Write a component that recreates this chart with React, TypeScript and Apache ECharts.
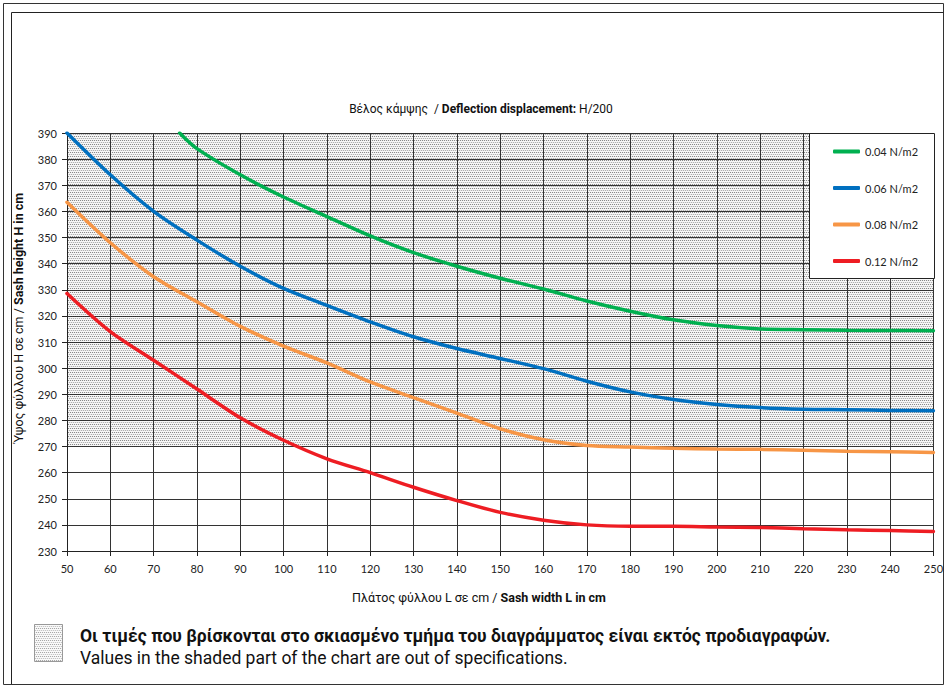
import React, { useEffect, useRef } from "react";
import * as echarts from "echarts";

// ---- Data ----
const widths = [50, 60, 70, 80, 90, 100, 110, 120, 130, 140, 150, 160, 170, 180, 190, 200, 210, 220, 230, 240, 250];
const greenWidths = [76, 80, 90, 100, 110, 120, 130, 140, 150, 160, 170, 180, 190, 200, 210, 220, 230, 240, 250];
const green004 = [390, 384, 374, 365.5, 358, 350.6, 344.2, 339, 334.4, 330.3, 325.7, 321.8, 318.5, 316.3, 315, 314.7, 314.5, 314.4, 314.3];
const blue006 = [390, 374, 360, 349, 339, 330.5, 324, 317.7, 312, 307.5, 303.7, 299.8, 295, 290.9, 288, 286.1, 284.9, 284.3, 284.1, 283.8, 283.7];
const orange008 = [363.5, 348, 335, 325.4, 316, 308.4, 302, 294.7, 288.7, 282.8, 276.8, 272.6, 270.4, 269.8, 269.3, 269, 268.9, 268.6, 268.2, 268, 267.7];
const red012 = [328.6, 314, 303, 292, 281, 272.4, 265.3, 260, 254.4, 249.3, 244.8, 241.8, 240, 239.5, 239.5, 239.2, 239, 238.5, 238.1, 237.8, 237.5];
const seriesNames = ["0.04 N/m2", "0.06 N/m2", "0.08 N/m2", "0.12 N/m2"];
const seriesColors = ["#00B050", "#0070C0", "#F79646", "#EE1D23"];
const shadedRange = [270, 390];
const xRange = [50, 250];
const yRange = [230, 390];

function makePattern(light: boolean): HTMLCanvasElement {
  const c = document.createElement("canvas");
  c.width = 4;
  c.height = 4;
  const ctx = c.getContext("2d")!;
  const rows = light
    ? [
        ["#a8a8a8", "#f0f0f0", "#a8a8a8", "#f0f0f0"],
        ["#fafafa", "#fafafa", "#fafafa", "#fafafa"],
        ["#ececec", "#c4c4c4", "#ececec", "#c4c4c4"],
        ["#fafafa", "#fafafa", "#fafafa", "#fafafa"],
      ]
    : [
        ["#8a8a8a", "#ececec", "#8a8a8a", "#ececec"],
        ["#f8f8f8", "#f8f8f8", "#f8f8f8", "#f8f8f8"],
        ["#e6e6e6", "#b0b0b0", "#e6e6e6", "#b0b0b0"],
        ["#f8f8f8", "#f8f8f8", "#f8f8f8", "#f8f8f8"],
      ];
  rows.forEach((r, y) =>
    r.forEach((col, x) => {
      ctx.fillStyle = col;
      ctx.fillRect(x, y, 1, 1);
    })
  );
  return c;
}

const pairs = (xs: number[], ys: number[]) => xs.map((x, i) => [x, ys[i]]);

export default function App() {
  const ref = useRef<HTMLDivElement>(null);
  useEffect(() => {
    if (!ref.current) return;
    const chart = echarts.init(ref.current, undefined, { renderer: "svg" });
    const pattern = { image: makePattern(false), repeat: "repeat" as const };
    const lightPattern = { image: makePattern(true), repeat: "repeat" as const };
    const labelFont = { fontFamily: "Lato", fontSize: 11, color: "#222" };
    const lineSeries = [
      pairs(greenWidths, green004),
      pairs(widths, blue006),
      pairs(widths, orange008),
      pairs(widths, red012),
    ].map((d, i) => ({
      name: seriesNames[i],
      type: "line",
      data: d,
      symbol: "none",
      smooth: 0.3,
      z: 3,
      lineStyle: { color: seriesColors[i], width: 3.5, cap: "round" },
      itemStyle: { color: seriesColors[i] },
    }));
    const axisName = {
      n: { fontFamily: "Roboto", fontSize: 12.5, fill: "#111" },
      b: { fontFamily: "Roboto", fontSize: 12.5, fontWeight: "bold", fill: "#111" },
    };
    chart.setOption({
      animation: false,
      backgroundColor: "#fff",
      grid: { left: 67, right: 11, top: 133, bottom: 137 },
      xAxis: {
        type: "value",
        min: xRange[0],
        max: xRange[1],
        interval: 10,
        axisLine: { show: true, lineStyle: { color: "#222", width: 1 } },
        axisTick: { show: true, inside: false, length: 5, lineStyle: { color: "#222" } },
        axisLabel: { ...labelFont, margin: 12 },
        splitLine: { show: true, lineStyle: { color: "#333", width: 1 } },
      },
      yAxis: {
        type: "value",
        min: yRange[0],
        max: yRange[1],
        interval: 10,
        axisLine: { show: true, lineStyle: { color: "#222", width: 1 } },
        axisTick: { show: true, inside: false, length: 5, lineStyle: { color: "#222" } },
        axisLabel: { ...labelFont, margin: 10 },
        splitLine: { show: true, lineStyle: { color: "#333", width: 1 } },
      },
      legend: {
        data: seriesNames,
        orient: "vertical",
        left: 833,
        top: 146,
        itemGap: 25.5,
        itemWidth: 27,
        itemHeight: 4,
        itemTextGap: 1,
        padding: 0,
        icon: "roundRect",
        z: 20,
        textStyle: { fontFamily: "Lato", fontSize: 11, color: "#222" },
      },
      series: [
        {
          name: "shade",
          type: "line",
          data: [],
          z: 1,
          markArea: {
            silent: true,
            z: -1,
            itemStyle: { color: pattern, opacity: 1, borderWidth: 0 },
            data: [[{ xAxis: xRange[0], yAxis: shadedRange[0] }, { xAxis: xRange[1], yAxis: shadedRange[1] }]],
          },
        },
        ...lineSeries,
      ],
      graphic: [
        {
          type: "rect",
          z: 0,
          shape: { x: 3.5, y: 3.5, width: 940, height: 681 },
          style: { fill: "none", stroke: "#333", lineWidth: 1 },
        },
        {
          type: "polyline",
          z: 0,
          shape: { points: [[11.5, 684], [11.5, 12.5], [943.5, 12.5]] },
          style: { fill: "none", stroke: "#222", lineWidth: 1 },
        },
        {
          type: "text",
          x: 481,
          y: 109,
          style: {
            text: "{n|Βέλος κάμψης  / }{b|Deflection displacement:}{n| H/200}",
            align: "center",
            verticalAlign: "middle",
            rich: {
              n: { fontFamily: "Roboto", fontSize: 12, fill: "#111" },
              b: { fontFamily: "Roboto", fontSize: 12, fontWeight: "bold", fill: "#111" },
            },
          },
        },
        {
          type: "text",
          x: 18,
          y: 318,
          rotation: Math.PI / 2,
          style: {
            text: "{n|Ύψος φύλλου Η σε cm / }{b|Sash height H in cm}",
            align: "center",
            verticalAlign: "middle",
            rich: axisName,
          },
        },
        {
          type: "text",
          x: 479,
          y: 597,
          style: {
            text: "{n|Πλάτος φύλλου L σε cm / }{b|Sash width L in cm}",
            align: "center",
            verticalAlign: "middle",
            rich: axisName,
          },
        },
        {
          type: "rect",
          shape: { x: 34.5, y: 624.5, width: 28, height: 37 },
          style: { fill: lightPattern as any, stroke: "#999", lineWidth: 1 },
        },
        {
          type: "text",
          x: 80,
          y: 636,
          style: {
            text: "Οι τιμές που βρίσκονται στο σκιασμένο τμήμα του διαγράμματος είναι εκτός προδιαγραφών.",
            fontFamily: "Roboto",
            fontSize: 17.5,
            fontWeight: "bold",
            fill: "#111",
            align: "left",
            verticalAlign: "middle",
          },
        },
        {
          type: "text",
          x: 80,
          y: 658,
          style: {
            text: "Values in the shaded part of the chart are out of specifications.",
            fontFamily: "Roboto",
            fontSize: 17.5,
            fill: "#111",
            align: "left",
            verticalAlign: "middle",
          },
        },
        {
          type: "rect",
          z: 10,
          shape: { x: 809.5, y: 133.5, width: 125, height: 145 },
          style: { fill: "#fff", stroke: "#222", lineWidth: 1 },
        },
      ],
    });
    return () => chart.dispose();
  }, []);
  return <div ref={ref} style={{ width: 946, height: 688, position: "absolute", left: 0, top: 0 }} />;
}
